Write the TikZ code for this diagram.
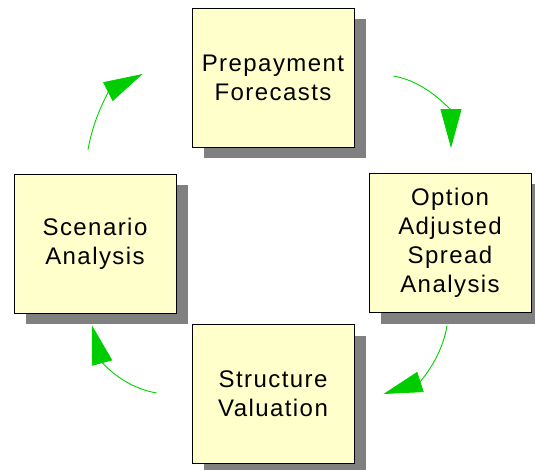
\documentclass[tikz,border=0pt]{standalone}
\usepackage{fontspec}
\setmainfont{Liberation Sans}[LetterSpace=6]
\usetikzlibrary{arrows.meta,shadows}

\begin{document}
\begin{tikzpicture}[
    x=1pt,
    y=1pt,
    box/.style={draw=black, line width=0.8pt, fill={rgb,255:red,255;green,255;blue,204},
        minimum width=162pt, minimum height=139pt, inner sep=0pt, align=center,
        font=\fontsize{24}{29}\selectfont,
        drop shadow={shadow xshift=12pt, shadow yshift=-11pt, fill=black!50, opacity=1}},
    cyc/.style={draw={rgb,255:red,0;green,210;blue,0}, line width=0.9pt,
        -{Triangle[length=39pt,width=21pt,fill={rgb,255:red,0;green,204;blue,0}]}}
]
\useasboundingbox (0,0) rectangle (535,-470);

\node[box] (prep) at (273,-77.5) {Prepayment\\Forecasts};
\node[box] (oas) at (450,-243) {Option\\Adjusted\\Spread\\Analysis};
\node[box] (struct) at (273,-394) {Structure\\Valuation};
\node[box] (scen) at (95,-243.5) {Scenario\\Analysis};

\coordinate (a1s) at ([xshift=-7pt,yshift=24pt]scen.north);
\coordinate (a1e) at ([xshift=-49pt,yshift=3.5pt]prep.west);
\coordinate (a2s) at ([xshift=39pt,yshift=1.5pt]prep.east);
\coordinate (a2e) at ([xshift=1pt,yshift=25pt]oas.north);
\coordinate (a3s) at ([xshift=-3pt,yshift=-13pt]oas.south);
\coordinate (a3e) at ([xshift=29pt]struct.east);
\coordinate (a4s) at ([xshift=-35pt,yshift=1pt]struct.west);
\coordinate (a4e) at ([xshift=-3pt,yshift=-12pt]scen.south);

\draw[cyc] (a1s) to[out=80, in=207] (a1e);
\draw[cyc] (a2s) to[out=-10, in=90] (a2e);
\draw[cyc] (a3s) to[out=-100, in=18] (a3e);
\draw[cyc] (a4s) to[out=170, in=-75] (a4e);
\end{tikzpicture}
\end{document}
